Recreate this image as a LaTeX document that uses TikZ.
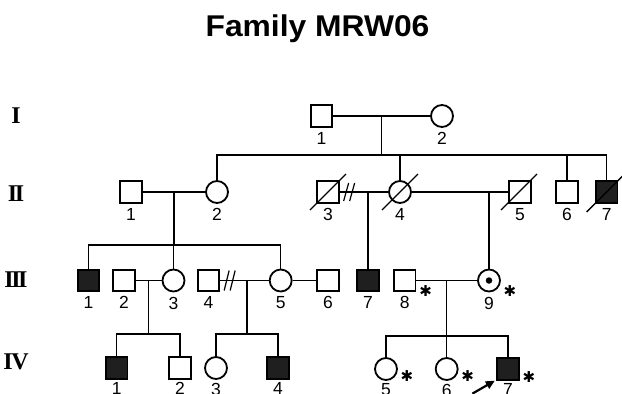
\documentclass[tikz,border=0pt]{standalone}
\usepackage{fontspec}
\newfontfamily\titlefont{Liberation Sans}
\newfontfamily\numfont{Liberation Sans}
\newfontfamily\genfont{Liberation Serif}
\newfontfamily\symfont{DejaVu Sans}
\usetikzlibrary{arrows.meta, positioning, calc}
\tikzset{
  male/.style    = {draw, line width=1.8pt, minimum size=21.5pt, inner sep=0pt},
  female/.style  = {circle, draw, line width=1.8pt, minimum size=22pt, inner sep=0pt},
  aff/.style     = {fill=black!88},
  num/.style     = {font=\numfont\fontsize{17.5}{17.5}\selectfont, inner sep=0pt, outer sep=0pt},
  gen/.style     = {font=\genfont\bfseries\fontsize{24}{24}\selectfont, inner sep=0pt},
  link/.style    = {line width=1.2pt},
  dead/.style    = {line width=1.4pt},
  carrier/.style = {font=\symfont\fontsize{15}{15}\selectfont, inner sep=0pt},
  proband/.style = {-{Triangle[length=9pt, width=8pt]}, line width=2.2pt},
}
\begin{document}
\begin{tikzpicture}[x=1pt, y=-1pt]
  \useasboundingbox (0,0) rectangle (622,394);

  \node[font=\titlefont\bfseries\fontsize{30}{30}\selectfont, anchor=base] (title)
    at (317.5,36.7) {\scalebox{1.06}[1]{Family MRW06}};

  % generation labels
  \node[gen] (gI)   at (16,116) {I};
  \node[gen] (gII)  at (16,194) {I\kern-2.5ptI};
  \node[gen] (gIII) at (16,280) {I\kern-2.5ptI\kern-2.5ptI};
  \node[gen] (gIV)  at (16,362) {I\kern-1.5ptV};

  % generation I
  \node[male]   (i1) at (321.5,116) {};
  \node[female] (i2) at (442,116) {};
  \node[num, below=4.5pt of i1] (n-i1) {1};
  \node[num, below=4.5pt of i2] (n-i2) {2};

  % generation II
  \node[male]      (ii1) at (131,192) {};
  \node[female]    (ii2) at (217,192) {};
  \node[male]      (ii3) at (328,192) {};
  \node[female]    (ii4) at (400,192) {};
  \node[male]      (ii5) at (520,192) {};
  \node[male]      (ii6) at (567,192) {};
  \node[male, aff] (ii7) at (606.7,192) {};
  \node[num, below=4.5pt of ii1] (n-ii1) {1};
  \node[num, below=4.5pt of ii2] (n-ii2) {2};
  \node[num, below=4.5pt of ii3] (n-ii3) {3};
  \node[num, below=4.5pt of ii4] (n-ii4) {4};
  \node[num, below=4.5pt of ii5] (n-ii5) {5};
  \node[num, below=4.5pt of ii6] (n-ii6) {6};
  \node[num, below=4.5pt of ii7] (n-ii7) {7};

  % generation III
  \node[male, aff] (iii1) at (88.5,280.5) {};
  \node[male]      (iii2) at (124,280.5) {};
  \node[female]    (iii3) at (173.5,280.5) {};
  \node[male]      (iii4) at (208.5,280.5) {};
  \node[female]    (iii5) at (280.7,280.5) {};
  \node[male]      (iii6) at (328,280.5) {};
  \node[male, aff] (iii7) at (368,280.5) {};
  \node[male]      (iii8) at (404.7,280.5) {};
  \node[female]    (iii9) at (489,280.5) {};
  \node[circle, fill, minimum size=6.5pt, inner sep=0pt] (dot9) at (iii9) {};
  \node[num, below=4.5pt of iii1] (n-iii1) {1};
  \node[num, below=4.5pt of iii2] (n-iii2) {2};
  \node[num, below=4.5pt of iii3] (n-iii3) {3};
  \node[num, below=4.5pt of iii4] (n-iii4) {4};
  \node[num, below=4.5pt of iii5] (n-iii5) {5};
  \node[num, below=4.5pt of iii6] (n-iii6) {6};
  \node[num, below=4.5pt of iii7] (n-iii7) {7};
  \node[num, below=4.5pt of iii8] (n-iii8) {8};
  \node[num, below=4.5pt of iii9] (n-iii9) {9};

  % generation IV
  \node[male, aff] (iv1) at (116.7,368) {};
  \node[male]      (iv2) at (180,368) {};
  \node[female]    (iv3) at (216,368) {};
  \node[male, aff] (iv4) at (278,368) {};
  \node[female]    (iv5) at (386,369) {};
  \node[female]    (iv6) at (446.7,369) {};
  \node[male, aff] (iv7) at (508,369) {};
  \node[num, below=3pt of iv1] (n-iv1) {1};
  \node[num, below=3pt of iv2] (n-iv2) {2};
  \node[num, below=3pt of iv3] (n-iv3) {3};
  \node[num, below=3pt of iv4] (n-iv4) {4};
  \node[num, below=3pt of iv5] (n-iv5) {5};
  \node[num, below=3pt of iv6] (n-iv6) {6};
  \node[num, below=3pt of iv7] (n-iv7) {7};

  % sibship levels
  \coordinate (sII)  at (0,155);
  \coordinate (sIII) at (0,245);
  \coordinate (sIVa) at (0,334);
  \coordinate (sIVb) at (0,336);

  % I -> II
  \draw[link] (i1) -- (i2);
  \coordinate (mI) at ($(i1)!.5!(i2)$);
  \draw[link] (mI) -- (mI |- sII);
  \draw[link] (ii2) -- (ii2 |- sII) -- (ii7 |- sII) -- (ii7);
  \draw[link] (ii4) -- (ii4 |- sII);
  \draw[link] (ii6) -- (ii6 |- sII);

  % II -> III
  \draw[link] (ii1) -- (ii2);
  \coordinate (m12) at ($(ii1)!.5!(ii2)$);
  \draw[link] (m12) -- (m12 |- sIII);
  \draw[link] (iii1) -- (iii1 |- sIII) -- (iii5 |- sIII) -- (iii5);
  \draw[link] (iii3) -- (iii3 |- sIII);
  \draw[link] (ii3) -- (ii4);
  \draw[link] ([shift={(4,9)}]ii3.east) -- ++(5,-18);
  \draw[link] ([shift={(10,9)}]ii3.east) -- ++(5,-18);
  \draw[link] (iii7) -- (iii7 |- ii3);
  \draw[link] (ii4) -- (ii5);
  \draw[link] (iii9) -- (iii9 |- ii5);

  % deceased
  \draw[dead] ([shift={(-18,18)}]ii3.center) -- ([shift={(18,-18)}]ii3.center);
  \draw[dead] ([shift={(-18,18)}]ii4.center) -- ([shift={(18,-18)}]ii4.center);
  \draw[dead] ([shift={(-19,18)}]ii5.center) -- ([shift={(17,-18)}]ii5.center);
  \draw[dead] ([shift={(-20,20)}]ii7.center) -- ([shift={(18,-18)}]ii7.center);

  % III -> IV
  \draw[link] (iii2) -- (iii3);
  \coordinate (m23) at ($(iii2)!.5!(iii3)$);
  \draw[link] (m23) -- (m23 |- sIVa);
  \draw[link] (iv1) -- (iv1 |- sIVa) -- (iv2 |- sIVa) -- (iv2);
  \draw[link] (iii4) -- (iii5);
  \draw[link] ([shift={(4,10)}]iii4.east) -- ++(5,-20);
  \draw[link] ([shift={(10,10)}]iii4.east) -- ++(5,-20);
  \coordinate (m45) at ($(iii4.east)!.55!(iii5.west)$);
  \draw[link] (m45) -- (m45 |- sIVa);
  \draw[link] (iv3) -- (iv3 |- sIVa) -- (iv4 |- sIVa) -- (iv4);
  \draw[link] (iii5) -- (iii6);
  \draw[link] (iii8) -- (iii9);
  \coordinate (m89) at ($(iii8)!.5!(iii9)$);
  \draw[link] (m89) -- (m89 |- sIVb);
  \draw[link] (iv5) -- (iv5 |- sIVb) -- (iv7 |- sIVb) -- (iv7);
  \draw[link] (iv6) -- (iv6 |- sIVb);

  % tested members
  \node[carrier] (c-iii8) at ([shift={(21,11)}]iii8) {✱};
  \node[carrier] (c-iii9) at ([shift={(21,11)}]iii9) {✱};
  \node[carrier] (c-iv5)  at ([shift={(21,7.5)}]iv5) {✱};
  \node[carrier] (c-iv6)  at ([shift={(21,7.5)}]iv6) {✱};
  \node[carrier] (c-iv7)  at ([shift={(21,8.5)}]iv7) {✱};

  % proband
  \coordinate (pb) at ([shift={(-24,13)}]iv7.south west);
  \draw[proband] (pb) -- ([shift={(-1.5,0)}]iv7.south west);
\end{tikzpicture}
\end{document}
